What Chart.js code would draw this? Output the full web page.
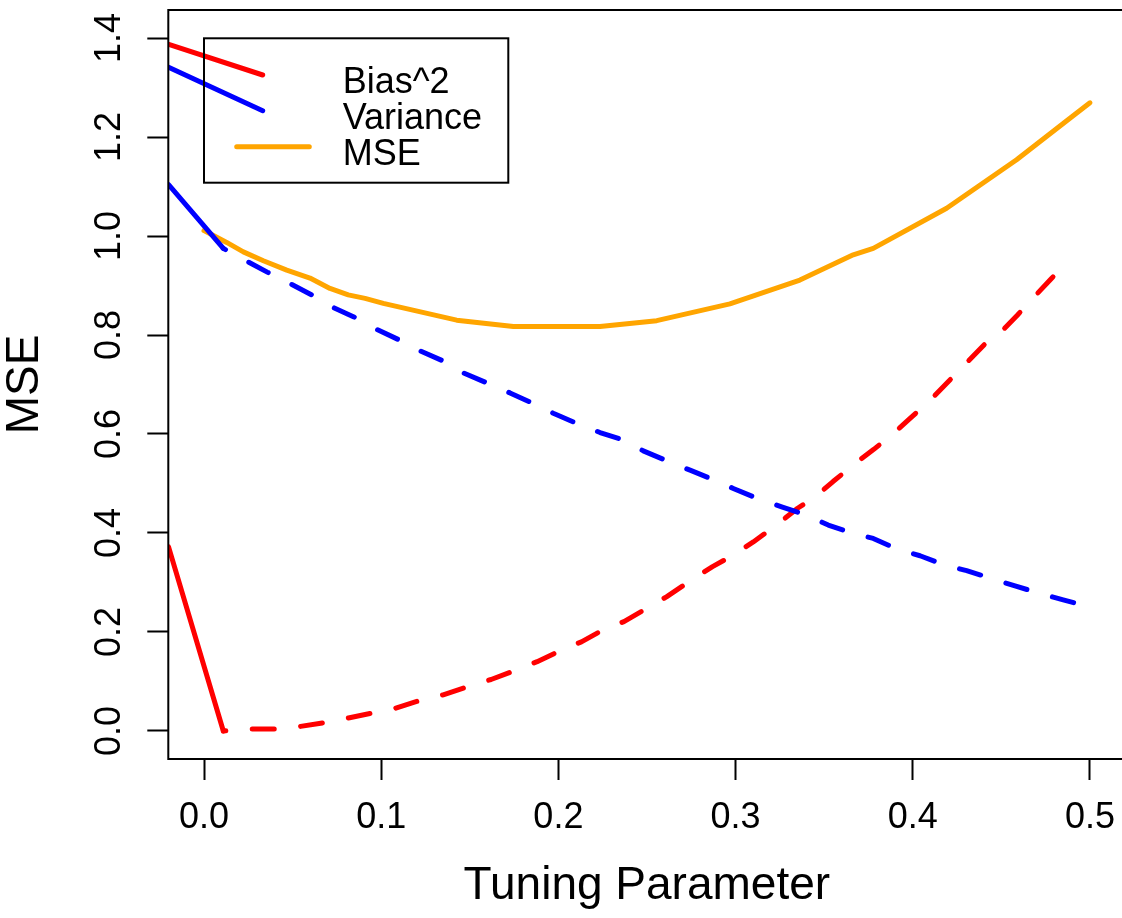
<!DOCTYPE html>
<html><head><meta charset="utf-8">
<script src="https://cdn.jsdelivr.net/npm/chart.js@4/dist/chart.umd.min.js"></script>
<style>html,body{margin:0;padding:0;background:#fff;overflow:hidden;} #wrap{width:1128px;height:918px;}</style>
</head><body><div id="wrap"><canvas id="c" width="1128" height="918"></canvas></div>
<script>
const xTicks = [0, 0.1, 0.2, 0.3, 0.4, 0.5];
const yTicks = [0, 0.2, 0.4, 0.6, 0.8, 1.0, 1.2, 1.4];
const legendLabels = ["Bias^2", "Variance", "MSE"];
const xTitle = "Tuning Parameter";
const yTitle = "MSE";

const biasSolidX = [-0.02, 0.0109];
const biasSolidY = [0.372, 0.0];
const varSolidX = [-0.02, 0.0109];
const varSolidY = [1.104, 0.975];

const biasX = [0.0109, 0.026, 0.041, 0.054, 0.068, 0.081, 0.096, 0.108, 0.123, 0.135, 0.150, 0.162, 0.176, 0.188, 0.202, 0.213, 0.225, 0.237, 0.250, 0.261, 0.273, 0.287, 0.299, 0.310, 0.322, 0.335, 0.345, 0.355, 0.367, 0.378, 0.389, 0.398, 0.410, 0.444, 0.450, 0.459, 0.469, 0.478, 0.488];
const biasY = [0.0, 0.004, 0.004, 0.009, 0.017, 0.026, 0.037, 0.046, 0.063, 0.073, 0.091, 0.104, 0.123, 0.140, 0.164, 0.180, 0.204, 0.221, 0.248, 0.271, 0.300, 0.332, 0.356, 0.382, 0.413, 0.450, 0.473, 0.504, 0.539, 0.569, 0.601, 0.630, 0.669, 0.794, 0.807, 0.840, 0.879, 0.913, 0.952];

const varX = [0.0109, 0.0237, 0.0357, 0.0485, 0.0608, 0.0721, 0.0843, 0.0971, 0.1096, 0.1219, 0.1347, 0.1467, 0.1591, 0.1727, 0.1849, 0.1971, 0.2094, 0.2235, 0.2366, 0.2479, 0.2611, 0.2743, 0.2865, 0.2987, 0.3128, 0.3260, 0.3401, 0.3523, 0.3664, 0.3777, 0.3909, 0.4041, 0.4182, 0.4304, 0.4454, 0.4577, 0.4718, 0.4849, 0.4990];
const varY = [0.975, 0.950, 0.927, 0.904, 0.881, 0.857, 0.837, 0.812, 0.791, 0.768, 0.748, 0.723, 0.704, 0.683, 0.663, 0.642, 0.623, 0.603, 0.588, 0.566, 0.546, 0.527, 0.509, 0.490, 0.469, 0.453, 0.436, 0.416, 0.399, 0.389, 0.368, 0.354, 0.335, 0.324, 0.307, 0.293, 0.278, 0.265, 0.251];

const mseX = [0, 0.0128, 0.0222, 0.0335, 0.0467, 0.0598, 0.0711, 0.0814, 0.0909, 0.1012, 0.1426, 0.1746, 0.2235, 0.2555, 0.2968, 0.3363, 0.3664, 0.3777, 0.4191, 0.4586, 0.4887, 0.5];
const mseY = [1.011, 0.987, 0.968, 0.950, 0.931, 0.915, 0.894, 0.881, 0.874, 0.864, 0.830, 0.817, 0.817, 0.829, 0.863, 0.911, 0.962, 0.975, 1.056, 1.154, 1.238, 1.269];

const RED = '#FF0000', BLUE = '#0000FF', ORANGE = '#FFA500';
const FONT = '"Liberation Sans", Arial, Helvetica, sans-serif';
const DASH = [22, 26.5];

function pts(xs, ys) { return xs.map((x, i) => ({x: x, y: ys[i]})); }
function lineDs(label, xs, ys, color, dashed, order) {
  return {
    label: label, data: pts(xs, ys), borderColor: color, backgroundColor: color,
    borderWidth: 5, borderCapStyle: 'round', borderJoinStyle: 'round',
    borderDash: dashed ? DASH : [], borderDashOffset: dashed ? 19.5 : 0,
    pointRadius: 0, pointHoverRadius: 0, tension: 0, fill: false, clip: 0, order: order
  };
}

const boxPlugin = {
  id: 'rbox',
  afterDatasetsDraw(chart) {
    const ctx = chart.ctx, a = chart.chartArea;
    const L = a.left, T = a.top;
    ctx.save();
    ctx.beginPath(); ctx.rect(a.left, a.top, a.right - a.left, a.bottom - a.top); ctx.clip();
    ctx.lineWidth = 5; ctx.lineCap = 'round';
    ctx.strokeStyle = RED;
    ctx.beginPath(); ctx.moveTo(L - 20, T + 27.8); ctx.lineTo(L + 94.4, T + 65); ctx.stroke();
    ctx.strokeStyle = BLUE;
    ctx.beginPath(); ctx.moveTo(L - 20, T + 48); ctx.lineTo(L + 94.4, T + 100.7); ctx.stroke();
    ctx.strokeStyle = ORANGE;
    ctx.beginPath(); ctx.moveTo(L + 68.4, T + 136.7); ctx.lineTo(L + 141, T + 136.7); ctx.stroke();
    ctx.restore();

    ctx.save();
    ctx.strokeStyle = '#000'; ctx.lineWidth = 2;
    ctx.strokeRect(a.left, a.top, a.right - a.left, a.bottom - a.top);
    ctx.strokeRect(L + 35.7, T + 28.3, 304.3, 144.4);
    ctx.fillStyle = '#000';
    ctx.font = '36px ' + FONT;
    ctx.textAlign = 'left'; ctx.textBaseline = 'alphabetic';
    legendLabels.forEach((t, i) => ctx.fillText(t, L + 174.4, T + 82.7 + 36 * i));
    ctx.restore();
  }
};

function noPad(s) { s.paddingTop = 0; s.paddingBottom = 0; s.paddingLeft = 0; s.paddingRight = 0; }

new Chart(document.getElementById('c'), {
  type: 'line',
  data: {
    datasets: [
      lineDs('MSE', mseX, mseY, ORANGE, false, 3),
      lineDs('Bias^2 solid', biasSolidX, biasSolidY, RED, false, 2),
      lineDs('Bias^2', biasX, biasY, RED, true, 2),
      lineDs('Variance solid', varSolidX, varSolidY, BLUE, false, 1),
      lineDs('Variance', varX, varY, BLUE, true, 1)
    ]
  },
  options: {
    responsive: false, animation: false, devicePixelRatio: 1,
    layout: { padding: { left: 0, top: 10, right: 2.6, bottom: 0 } },
    plugins: { legend: { display: false }, tooltip: { enabled: false } },
    scales: {
      x: {
        type: 'linear', min: -0.02015, max: 0.52,
        afterBuildTicks: s => { s.ticks = xTicks.map(v => ({value: v})); },
        afterFit: s => { s.height = 159; noPad(s); },
        border: { display: false },
        grid: { display: true, drawOnChartArea: false, drawTicks: true, tickLength: 21, tickWidth: 2, tickColor: '#000' },
        ticks: { autoSkip: false, maxRotation: 0, minRotation: 0, padding: 16, color: '#000',
                 font: { size: 36, family: FONT }, callback: v => v.toFixed(1) },
        title: { display: true, text: xTitle, color: '#000', font: { size: 46, family: FONT, lineHeight: 1.1 }, padding: { top: 0, bottom: 6 } }
      },
      y: {
        type: 'linear', min: -0.0566, max: 1.4566,
        afterBuildTicks: s => { s.ticks = yTicks.map(v => ({value: v})); },
        afterFit: s => { s.width = 168.3; noPad(s); },
        border: { display: false },
        grid: { display: true, drawOnChartArea: false, drawTicks: true, tickLength: 21, tickWidth: 2, tickColor: '#000' },
        ticks: { autoSkip: false, minRotation: 90, maxRotation: 90, crossAlign: 'center', padding: 12, color: '#000',
                 font: { size: 36, family: FONT }, callback: v => v.toFixed(1) },
        title: { display: true, text: yTitle, color: '#000', font: { size: 46, family: FONT, lineHeight: 1.1 }, padding: { top: 0, bottom: 0 } }
      }
    }
  },
  plugins: [boxPlugin]
});
</script>
</body></html>
